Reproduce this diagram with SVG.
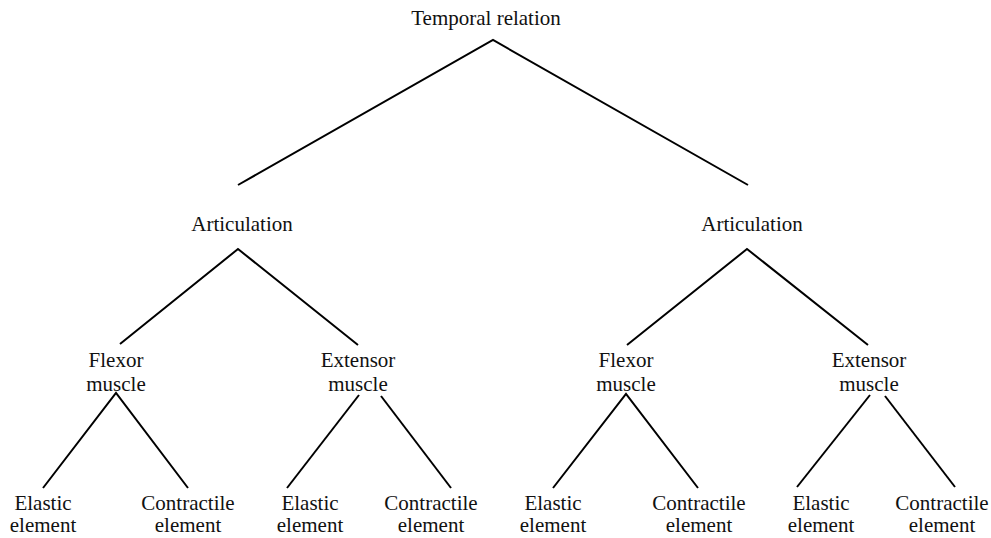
<svg xmlns="http://www.w3.org/2000/svg" width="991" height="538" viewBox="0 0 991 538">
  <style>
    .lbl { font-family: "Liberation Serif", "Times New Roman", serif; font-size: 21px; fill: #111; text-anchor: middle; }
    .edge { stroke: #000; stroke-width: 2; fill: none; }
  </style>
  <rect width="991" height="538" fill="#fff"/>

  <g id="connectors">
    <!-- root to articulations -->
    <polyline class="edge" points="238,185 493,40 748,185"/>
    <!-- left articulation -->
    <polyline class="edge" points="120,344 238,249 358,345"/>
    <!-- right articulation -->
    <polyline class="edge" points="627,345 747,249 868,345"/>
    <!-- left flexor -->
    <polyline class="edge" points="43,488 116,393 188,488"/>
    <!-- left extensor -->
    <line class="edge" x1="359" y1="395" x2="287" y2="488"/>
    <line class="edge" x1="381" y1="396" x2="451" y2="488"/>
    <!-- right flexor -->
    <polyline class="edge" points="553,488 626,394 698,488"/>
    <!-- right extensor -->
    <line class="edge" x1="870" y1="395" x2="797" y2="487"/>
    <line class="edge" x1="885" y1="396" x2="955" y2="487"/>
  </g>

  <g id="temporal-relation"><text class="lbl" x="486" y="25">Temporal relation</text></g>

  <g id="articulation-left"><text class="lbl" x="242" y="231">Articulation</text></g>
  <g id="articulation-right"><text class="lbl" x="752" y="231">Articulation</text></g>

  <g id="flexor-left"><text class="lbl" x="116" y="367">Flexor</text><text class="lbl" x="116" y="391">muscle</text></g>
  <g id="extensor-left"><text class="lbl" x="358" y="367">Extensor</text><text class="lbl" x="358" y="391">muscle</text></g>
  <g id="flexor-right"><text class="lbl" x="626" y="367">Flexor</text><text class="lbl" x="626" y="391">muscle</text></g>
  <g id="extensor-right"><text class="lbl" x="869" y="367">Extensor</text><text class="lbl" x="869" y="391">muscle</text></g>

  <g id="elastic-1"><text class="lbl" x="43" y="510">Elastic</text><text class="lbl" x="43" y="532">element</text></g>
  <g id="contractile-1"><text class="lbl" x="188" y="510">Contractile</text><text class="lbl" x="188" y="532">element</text></g>
  <g id="elastic-2"><text class="lbl" x="310" y="510">Elastic</text><text class="lbl" x="310" y="532">element</text></g>
  <g id="contractile-2"><text class="lbl" x="431" y="510">Contractile</text><text class="lbl" x="431" y="532">element</text></g>
  <g id="elastic-3"><text class="lbl" x="553" y="510">Elastic</text><text class="lbl" x="553" y="532">element</text></g>
  <g id="contractile-3"><text class="lbl" x="699" y="510">Contractile</text><text class="lbl" x="699" y="532">element</text></g>
  <g id="elastic-4"><text class="lbl" x="821" y="510">Elastic</text><text class="lbl" x="821" y="532">element</text></g>
  <g id="contractile-4"><text class="lbl" x="942" y="510">Contractile</text><text class="lbl" x="942" y="532">element</text></g>
</svg>
